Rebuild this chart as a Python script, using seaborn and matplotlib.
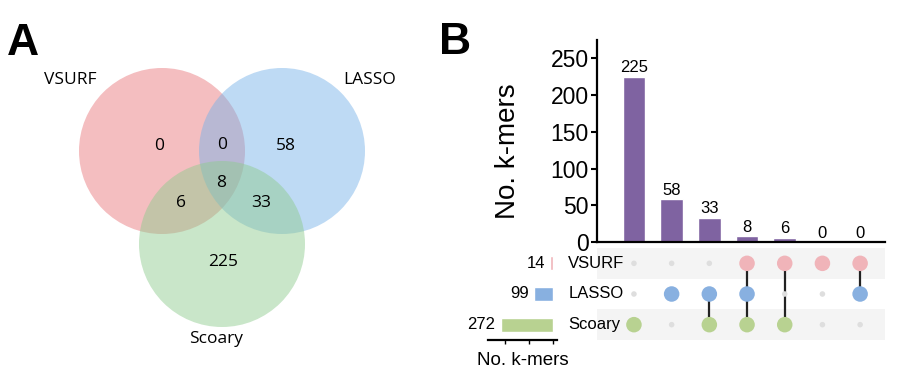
import numpy as np
import pandas as pd
import seaborn as sns
import matplotlib.pyplot as plt
from matplotlib.patches import Circle
from matplotlib.transforms import blended_transform_factory

# data
set_names = ["VSURF", "LASSO", "Scoary"]
set_sizes = [14, 99, 272]
set_colors = ["#f0b4b9", "#88b0e0", "#b8d291"]

inter_counts = [225, 58, 33, 8, 6, 0, 0]
inter_members = [
    ["Scoary"],
    ["LASSO"],
    ["LASSO", "Scoary"],
    ["VSURF", "LASSO", "Scoary"],
    ["VSURF", "Scoary"],
    ["VSURF"],
    ["VSURF", "LASSO"],
]

# venn region labels
venn_labels = ["0", "0", "58", "8", "6", "33", "225"]

purple = "#7f63a1"

sns.set_style("white")
plt.rcParams["font.family"] = ["Liberation Sans", "DejaVu Sans"]
plt.rcParams["text.color"] = "black"
plt.rcParams["axes.labelcolor"] = "black"
plt.rcParams["xtick.color"] = "black"
plt.rcParams["ytick.color"] = "black"

fig = plt.figure(figsize=(9, 3.74), dpi=100)
W, H = 900, 374


def px_axes(x0, y0, x1, y1):
    return fig.add_axes([x0 / W, 1 - y1 / H, (x1 - x0) / W, (y1 - y0) / H])


# ---------- panel A : venn ----------
ax_v = px_axes(0, 0, 440, 374)
ax_v.set_xlim(0, 440)
ax_v.set_ylim(374, 0)
ax_v.set_aspect("equal")
ax_v.axis("off")

venn_centers = [(162, 151), (282, 151), (222, 244)]
venn_fill = ["#e8777c", "#78b2e8", "#8ecb8e"]
for (cx, cy), c in zip(venn_centers, venn_fill):
    ax_v.add_patch(Circle((cx, cy), 83, facecolor=c, alpha=0.48, edgecolor="none"))

venn_pos = [(159, 146), (222, 145), (286, 146), (221, 183), (181, 203), (261, 203), (223, 262)]
for (x, y), t in zip(venn_pos, venn_labels):
    ax_v.text(x, y, t, ha="center", va="center", fontsize=12.5, family="Open Sans")

ax_v.text(70, 80, "VSURF", ha="center", va="center", fontsize=12.5, family="Open Sans")
ax_v.text(370, 80, "LASSO", ha="center", va="center", fontsize=12.5, family="Open Sans")
ax_v.text(216, 339, "Scoary", ha="center", va="center", fontsize=12.5, family="Open Sans")

fig.text(7 / W, 1 - 55 / H, "A", fontsize=32, fontweight="bold", ha="left", va="baseline")
fig.text(439 / W, 1 - 54 / H, "B", fontsize=32, fontweight="bold", ha="left", va="baseline")

# ---------- panel B : upset ----------
ax_bar = px_axes(597, 40, 885, 242)
ax_mat = px_axes(597, 248, 885, 340)
ax_set = px_axes(488, 248, 557, 340)

cols = [str(i) for i in range(len(inter_counts))]
df_int = pd.DataFrame({"col": cols, "count": inter_counts})
sns.barplot(data=df_int, x="col", y="count", color=purple, width=0.6,
            saturation=1, ax=ax_bar)
ax_bar.bar_label(ax_bar.containers[0], padding=1, fontsize=12)
ax_bar.set_xlim(-0.98, 6.66)
ax_bar.set_ylim(0, 275)
ax_bar.set_yticks([0, 50, 100, 150, 200, 250])
ax_bar.tick_params(axis="y", labelsize=16.5, length=4, width=1.5, direction="out", left=True, pad=2)
ax_bar.set_xticks([])
ax_bar.set_xlabel("")
ax_bar.set_ylabel("No. k-mers", fontsize=20)
ax_bar.yaxis.set_label_coords(-0.265, 0.45)
for s in ["top", "right"]:
    ax_bar.spines[s].set_visible(False)
for s in ["left", "bottom"]:
    ax_bar.spines[s].set_linewidth(1.6)
    ax_bar.spines[s].set_color("black")

# matrix
row_of = {n: i for i, n in enumerate(set_names)}
cells = []
for ci, members in enumerate(inter_members):
    for n in set_names:
        cells.append({"x": ci, "y": row_of[n], "set": n, "in": n in members})
df_cells = pd.DataFrame(cells)

ax_mat.axhspan(-0.5, 0.5, color="#f4f4f4", zorder=0, lw=0)
ax_mat.axhspan(1.5, 2.5, color="#f4f4f4", zorder=0, lw=0)
for ci, members in enumerate(inter_members):
    ys = [row_of[m] for m in members]
    if len(ys) > 1:
        ax_mat.plot([ci, ci], [min(ys), max(ys)], color="#222222", lw=1.6, zorder=1)
sns.scatterplot(data=df_cells[~df_cells["in"]], x="x", y="y", color="#dedede",
                s=16, edgecolor="none", ax=ax_mat, zorder=2)
sns.scatterplot(data=df_cells[df_cells["in"]], x="x", y="y", hue="set",
                hue_order=set_names, palette=set_colors, s=125, edgecolor="none",
                legend=False, ax=ax_mat, zorder=3)
ax_mat.set_xlim(-0.98, 6.66)
ax_mat.set_ylim(2.5, -0.5)
ax_mat.axis("off")
trans = blended_transform_factory(ax_mat.transAxes, ax_mat.transData)
for n in set_names:
    ax_mat.text(-0.1, row_of[n], n, transform=trans, ha="left", va="center", fontsize=12)

# set sizes
df_set = pd.DataFrame({"set": set_names, "size": set_sizes})
sns.barplot(data=df_set, x="size", y="set", hue="set", palette=set_colors,
            orient="h", width=0.45, saturation=1, legend=False, ax=ax_set)
ax_set.set_xlim(340, -21)
ax_set.set_ylim(2.5, -0.5)
for i, v in enumerate(set_sizes):
    ax_set.annotate(str(v), xy=(v, i), xytext=(-4, 0), textcoords="offset points",
                    ha="right", va="center", fontsize=12)
ax_set.set_yticks([])
ax_set.set_ylabel("")
ax_set.set_xticks([0, 125, 250])
ax_set.set_xticklabels([])
ax_set.tick_params(axis="x", bottom=True, length=3, width=1, direction="out")
ax_set.set_xlabel("No. k-mers", fontsize=13.5, labelpad=2)
for s in ["top", "right", "left"]:
    ax_set.spines[s].set_visible(False)
ax_set.spines["bottom"].set_linewidth(1.6)
ax_set.spines["bottom"].set_color("black")

fig.savefig("out.png", dpi=100)
